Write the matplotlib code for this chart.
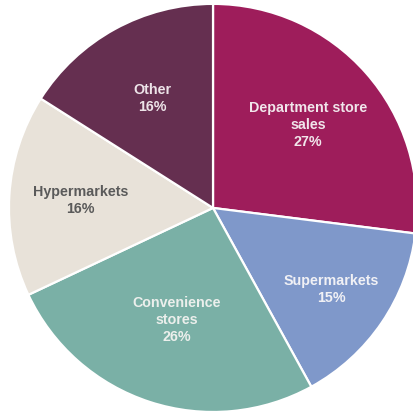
import matplotlib
matplotlib.use("Agg")
import matplotlib.pyplot as plt
import numpy as np

labels = ["Department store\nsales", "Supermarkets", "Convenience\nstores", "Hypermarkets", "Other"]
values = [27, 15, 26, 16, 16]
colors = ["#9E1D5B", "#7F98CA", "#7AB0A6", "#E8E2D9", "#652F50"]
text_colors = ["#F1E6EB", "#F1F1F5", "#ECEFEC", "#5A5A5A", "#EDE3E8"]
label_dist = [0.62, 0.70, 0.57, 0.65, 0.62]

fig = plt.figure(figsize=(4.14, 4.14), dpi=100)
ax = fig.add_axes([0, 0, 1, 1])
wedges, _ = ax.pie(values, colors=colors, startangle=90, counterclock=False,
                   radius=1.0, wedgeprops=dict(edgecolor="white", linewidth=1.6))

for w, lab, v, tc, d in zip(wedges, labels, values, text_colors, label_dist):
    ang = np.deg2rad((w.theta1 + w.theta2) / 2)
    x, y = d * np.cos(ang), d * np.sin(ang)
    ax.text(x, y, f"{lab}\n{v}%", ha="center", va="center", color=tc,
            fontsize=10.3, fontweight="bold", family="Liberation Sans",
            linespacing=1.27)

ax.set_xlim(-1.044, 0.985)
ax.set_ylim(-1.005, 1.024)
ax.set_aspect("equal")
ax.axis("off")
fig.savefig("out.png", dpi=100, facecolor="white")
